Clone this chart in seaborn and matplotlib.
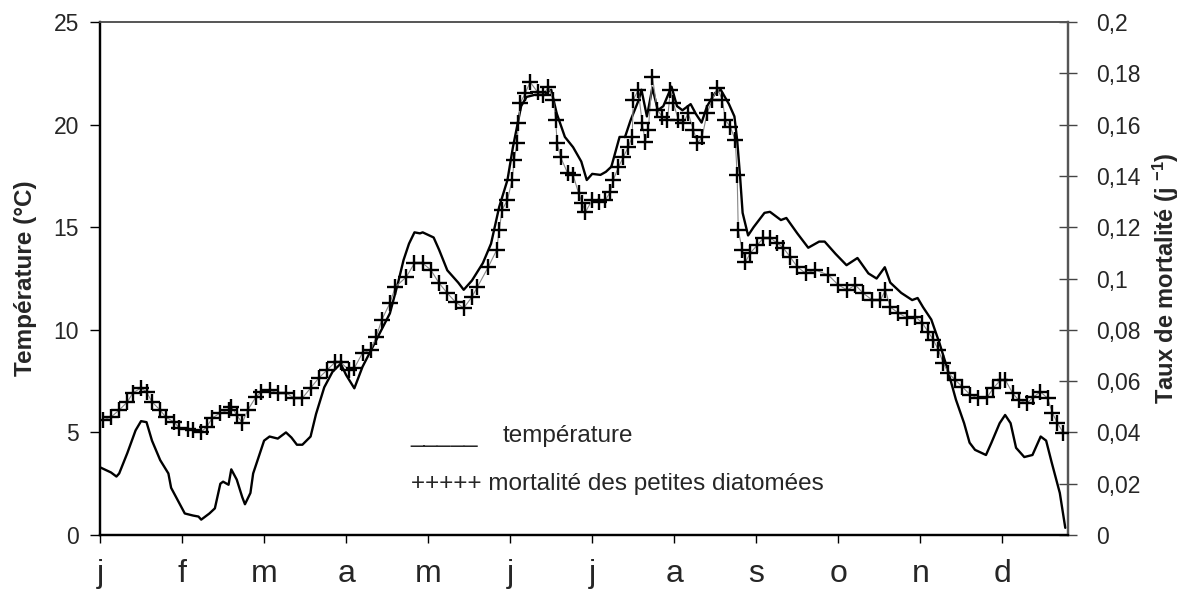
import matplotlib
matplotlib.use("Agg")
import matplotlib.pyplot as plt
import seaborn as sns
from matplotlib.ticker import FuncFormatter

# Data (x = day of the year)
temp_day = [0, 4, 6, 7, 10, 13, 15, 17, 19, 22, 25, 26, 29, 31, 34, 36, 37, 40, 42, 44,
            45, 47, 48, 50, 52, 53, 55, 56, 58, 60, 62, 65, 68, 70, 72, 74, 77, 79, 82, 85,
            88, 90, 93, 96, 101, 106, 109, 111, 113, 115, 117, 118, 122, 124, 127, 131, 133, 136, 140, 143,
            146, 149, 151, 154, 156, 159, 162, 165, 167, 170, 173, 176, 178, 180, 183, 185, 187, 190, 192, 194,
            197, 198, 200, 202, 204, 206, 209, 211, 213, 216, 218, 220, 222, 225, 227, 230, 232, 233, 234, 235,
            237, 239, 243, 245, 249, 251, 255, 259, 263, 265, 269, 273, 277, 281, 284, 287, 289, 293, 297, 299,
            301, 304, 307, 310, 313, 316, 318, 320, 324, 326, 329, 331, 333, 335, 338, 341, 344, 346, 348, 351,
            353]
temp_val = [3.3, 3.05, 2.85, 3.0, 4.0, 5.1, 5.55, 5.5, 4.6, 3.65, 3.0, 2.3, 1.55, 1.05, 0.95, 0.9, 0.75, 1.05, 1.3, 2.5,
            2.6, 2.45, 3.2, 2.7, 1.85, 1.5, 2.05, 3.0, 3.8, 4.6, 4.8, 4.7, 5.0, 4.75, 4.4, 4.4, 4.8, 5.9, 7.2, 7.95,
            8.35, 7.8, 7.15, 8.2, 9.5, 10.8, 12.3, 13.4, 14.2, 14.75, 14.7, 14.75, 14.5, 13.9, 12.9, 12.3, 11.95, 12.4, 13.25, 14.2,
            16.0, 17.3, 18.9, 20.9, 21.35, 21.45, 21.45, 21.7, 20.55, 19.4, 18.9, 18.2, 17.3, 17.6, 17.55, 17.7, 17.95, 19.4, 19.4, 20.2,
            21.2, 21.7, 20.4, 21.8, 20.7, 20.9, 21.85, 20.9, 20.7, 21.0, 20.5, 20.1, 20.9, 21.55, 21.7, 21.0, 20.4, 19.25, 17.6, 15.7,
            14.6, 15.0, 15.7, 15.75, 15.35, 15.45, 14.7, 14.0, 14.3, 14.3, 13.7, 13.15, 13.5, 12.75, 12.5, 13.05, 12.3, 11.8, 11.45, 11.55,
            11.1, 10.5, 9.35, 8.05, 6.6, 5.45, 4.5, 4.15, 3.9, 4.5, 5.45, 5.85, 5.45, 4.25, 3.8, 3.9, 4.8, 4.6, 3.55, 2.05,
            0.35]

mort_day = [1, 4, 7, 10, 12, 15, 17, 19, 22, 24, 27, 29, 32, 34, 37, 39, 41, 44, 47, 48,
            50, 52, 54, 57, 59, 62, 65, 68, 71, 74, 77, 80, 83, 86, 88, 91, 93, 96, 99, 101,
            103, 106, 108, 112, 115, 118, 121, 124, 127, 130, 133, 136, 138, 142, 145, 146, 147, 149, 150.7, 151.5,
            152.5, 153, 153.7, 155.5, 157.3, 160, 162, 164, 165.8, 166.6, 167.2, 168.4, 171, 173, 175, 176.3, 177.5, 180, 182.3, 184.8,
            186.6, 187.7, 189.6, 191.4, 193.2, 194.6, 195, 196.8, 198.3, 199.4, 200.5, 202, 203.8, 205.7, 207.5, 208.6, 209.7, 211.5, 213.3, 215.1,
            217, 218.5, 220.2, 222, 223.9, 225.7, 227.6, 228.7, 230.5, 232.3, 233, 233.4, 234.9, 236, 237.8, 240.4, 242.6, 245.1, 247.7, 249.9,
            252.4, 255, 258, 261.6, 266.3, 270, 273.3, 276.2, 279.1, 282.4, 285.4, 287.2, 289, 292, 295.2, 298.2, 300.7, 302.9, 304.8, 306.6,
            308.4, 310.2, 312.8, 315.4, 318.3, 321.2, 324.5, 326.7, 329.3, 331.1, 333.7, 335.9, 339.1, 341.3, 343.9, 346.5, 348.3, 350.1, 352.3]
mort_val = [0.0448, 0.046, 0.0487, 0.0519, 0.0554, 0.0573, 0.0558, 0.0519, 0.0487, 0.046, 0.0441, 0.0417, 0.0413, 0.0409, 0.0402, 0.0421, 0.0456, 0.0476, 0.0487, 0.05,
            0.0468, 0.0437, 0.0487, 0.0538, 0.0558, 0.0565, 0.0554, 0.0554, 0.0534, 0.0534, 0.0573, 0.0612, 0.0643, 0.0674, 0.0674, 0.0643, 0.0651, 0.071, 0.0721, 0.0772,
            0.0838, 0.0904, 0.0967, 0.1006, 0.106, 0.106, 0.1033, 0.0982, 0.0943, 0.0908, 0.0885, 0.0928, 0.0967, 0.1045, 0.111, 0.1189, 0.1267, 0.1306, 0.1384, 0.1462,
            0.1528, 0.1606, 0.1684, 0.1723, 0.1766, 0.1727, 0.1715, 0.1747, 0.1696, 0.1618, 0.1528, 0.1474, 0.1411, 0.1404, 0.1333, 0.1294, 0.1259, 0.1306, 0.1298, 0.1306,
            0.1337, 0.1384, 0.1435, 0.1474, 0.1513, 0.1552, 0.1696, 0.1735, 0.1606, 0.1532, 0.1579, 0.1786, 0.1657, 0.163, 0.1618, 0.1735, 0.1684, 0.1618, 0.1606, 0.1645,
            0.1579, 0.1528, 0.1552, 0.1645, 0.1696, 0.1743, 0.1696, 0.1618, 0.1591, 0.154, 0.1404, 0.1189, 0.111, 0.1064, 0.1099, 0.1131, 0.1158, 0.1158, 0.1138, 0.1119,
            0.1084, 0.1045, 0.1021, 0.1033, 0.1014, 0.0975, 0.0955, 0.0975, 0.0943, 0.0916, 0.0916, 0.0955, 0.0889, 0.0865, 0.0846, 0.085, 0.0827, 0.0791, 0.076, 0.0721,
            0.067, 0.0632, 0.0604, 0.0577, 0.0546, 0.0534, 0.0538, 0.0573, 0.0604, 0.0604, 0.0554, 0.0526, 0.0515, 0.0538, 0.0558, 0.0534, 0.0476, 0.0437, 0.0398]

month_ticks = [0, 30, 60, 90, 120, 150, 180, 210, 240, 270, 300, 330]
month_labels = ["j", "f", "m", "a", "m", "j", "j", "a", "s", "o", "n", "d"]

sns.set_style("white")
plt.rcParams["font.family"] = ["Liberation Sans", "DejaVu Sans"]
plt.rcParams["mathtext.default"] = "regular"

fig = plt.figure(figsize=(11.88, 5.95), dpi=100)
ax = fig.add_axes([0.0842, 0.1008, 0.8148, 0.8622])
ax2 = ax.twinx()

# temperature line
sns.lineplot(x=temp_day, y=temp_val, ax=ax, color="black", linewidth=1.7)

# mortality: faint connecting line + crosses
sns.lineplot(x=mort_day, y=mort_val, ax=ax2, color="#888888", linewidth=0.8)
sns.scatterplot(x=mort_day, y=mort_val, ax=ax2, marker="+", s=120,
                color="black", linewidth=1.7, zorder=3)

ax.set_xlim(0, 354)
ax.set_ylim(0, 25)
ax2.set_ylim(0, 0.2)

ax.set_xticks(month_ticks)
ax.set_xticklabels(month_labels)
ax.set_yticks([0, 5, 10, 15, 20, 25])
ax2.set_yticks([0, 0.02, 0.04, 0.06, 0.08, 0.1, 0.12, 0.14, 0.16, 0.18, 0.2])
ax2.yaxis.set_major_formatter(FuncFormatter(lambda v, p: f"{v:g}".replace(".", ",")))

ax.tick_params(axis="y", direction="out", length=7, width=1, color="black",
               labelsize=16.5, pad=8, left=True)
ax.tick_params(axis="x", direction="out", length=6, width=1, color="black",
               labelsize=23, pad=11, bottom=True)
ax2.tick_params(axis="y", direction="inout", length=13, width=1, color="#444444",
                labelsize=16.5, pad=14, right=True)

for a in (ax, ax2):
    a.spines["left"].set_color("black")
    a.spines["left"].set_linewidth(1.6)
    a.spines["bottom"].set_color("black")
    a.spines["bottom"].set_linewidth(1.6)
    a.spines["top"].set_color("#555555")
    a.spines["top"].set_linewidth(1.2)
    a.spines["right"].set_color("#555555")
    a.spines["right"].set_linewidth(1.6)

ax.set_xlabel("")
ax.set_ylabel("Température (°C)", fontsize=17.5, fontweight="bold", labelpad=12)
ax2.set_ylabel("Taux de mortalité (j $^{-1}$)", fontsize=17, fontweight="bold", labelpad=7)

# hand-made key, as in the original
fig.text(410 / 1188, 1 - 442 / 595, "_____", fontsize=17.5, va="baseline", ha="left")
fig.text(503 / 1188, 1 - 442 / 595, "température", fontsize=17.5, va="baseline", ha="left")
fig.text(411 / 1188, 1 - 490 / 595, "+++++ mortalité des petites diatomées",
         fontsize=17.5, va="baseline", ha="left")

fig.savefig("out.png", dpi=100)
